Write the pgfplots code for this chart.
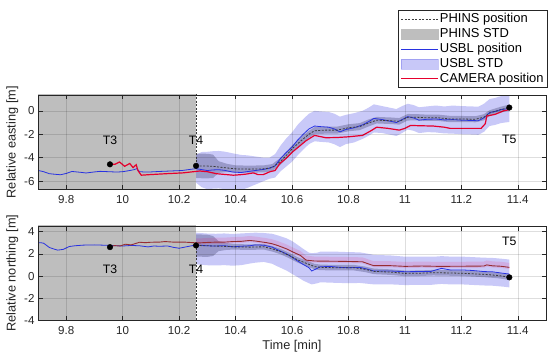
\documentclass[border=0pt]{standalone}
\usepackage{fontspec}
\setmainfont{Liberation Sans}
\setsansfont{Liberation Sans}
\usepackage{pgfplots}
\pgfplotsset{compat=1.18}
\usepackage{pgfplotstable}
\usepgfplotslibrary{fillbetween}

\definecolor{axgray}{RGB}{38,38,38}
\definecolor{phinsgray}{RGB}{190,190,190}
\definecolor{usblblue}{RGB}{40,50,225}
\definecolor{bandblue}{RGB}{60,60,230}
\definecolor{camred}{RGB}{230,0,45}
\definecolor{cambrown}{RGB}{150,45,50}
\definecolor{phinsdash}{RGB}{60,60,60}

% ---------- Easting (top) ----------
\pgfplotstableread{
t u w
9.70 -5.09 1.15
9.72 -5.20 1.15
9.74 -5.37 1.15
9.76 -5.42 1.15
9.78 -5.46 1.15
9.80 -5.35 1.15
9.82 -5.18 1.15
9.85 -5.25 1.15
9.87 -5.31 1.15
9.90 -5.22 1.15
9.92 -5.17 1.15
9.95 -5.20 1.15
9.98 -5.23 1.15
10.00 -5.20 1.15
10.02 -5.12 1.15
10.04 -5.03 1.15
10.05 -4.94 1.15
10.06 -5.20 1.15
10.08 -5.23 1.15
10.10 -5.22 1.15
10.13 -5.18 1.15
10.16 -5.15 1.15
10.19 -5.12 1.15
10.21 -5.10 1.15
10.24 -5.00 1.15
10.26 -4.94 1.2
10.28 -5.02 1.5
10.30 -5.10 1.6
10.32 -5.05 1.6
10.34 -5.03 1.6
10.36 -5.08 1.6
10.39 -5.23 1.6
10.42 -5.27 1.5
10.44 -5.20 1.4
10.47 -5.10 1.2
10.50 -5.00 1.0
10.52 -4.90 0.9
10.54 -4.70 1.0
10.56 -4.05 1.1
10.58 -3.55 1.2
10.60 -3.10 1.25
10.62 -2.50 1.3
10.64 -2.00 1.3
10.66 -1.55 1.3
10.68 -1.30 1.3
10.70 -1.35 1.3
10.73 -1.40 1.3
10.75 -1.55 1.3
10.77 -1.80 1.3
10.79 -1.60 1.25
10.82 -1.45 1.25
10.85 -1.20 1.2
10.87 -0.95 1.2
10.89 -0.65 1.2
10.92 -0.75 1.15
10.95 -0.90 1.15
10.97 -1.00 1.15
10.99 -0.75 1.15
11.01 -0.50 1.1
11.03 -0.60 1.1
11.05 -0.80 1.1
11.08 -0.72 1.1
11.11 -0.70 1.15
11.14 -0.78 1.15
11.17 -0.75 1.2
11.20 -0.80 1.2
11.23 -0.82 1.2
11.26 -0.85 1.2
11.28 -0.60 1.2
11.30 -0.15 1.15
11.32 -0.05 1.15
11.34 0.10 1.15
11.37 0.20 1.15
}\usblE

\pgfplotstableread{
t c
9.955 -4.57
9.972 -4.57
9.989 -4.37
10.007 -4.74
10.025 -4.50
10.037 -4.85
10.048 -4.60
10.054 -5.10
10.066 -5.50
10.096 -5.45
10.155 -5.37
10.214 -5.30
10.273 -5.14
10.30 -5.20
10.332 -5.37
10.392 -5.50
10.42 -5.45
10.439 -5.40
10.463 -5.30
10.48 -5.45
10.498 -5.45
10.522 -5.20
10.54 -5.10
10.557 -4.50
10.58 -4.05
10.60 -3.55
10.63 -2.95
10.65 -2.55
10.68 -2.10
10.70 -2.20
10.72 -2.30
10.76 -2.28
10.80 -2.22
10.85 -2.10
10.88 -1.70
10.90 -1.40
10.94 -1.50
10.98 -1.65
11.00 -1.50
11.02 -1.25
11.06 -1.28
11.10 -1.30
11.14 -1.40
11.16 -1.50
11.22 -1.50
11.27 -1.50
11.285 -1.10
11.29 -0.45
11.32 -0.30
11.35 0.00
11.37 0.10
}\camE

\pgfplotstableread{
t p w
10.26 -4.70 1.05
10.30 -4.72 1.05
10.32 -4.74 1.0
10.34 -4.80 0.5
10.37 -4.88 0.35
10.40 -4.96 0.3
10.45 -4.98 0.3
10.50 -4.96 0.3
10.53 -4.85 0.3
10.56 -4.30 0.3
10.58 -3.80 0.3
10.60 -3.25 0.3
10.63 -2.60 0.3
10.66 -2.00 0.3
10.68 -1.70 0.3
10.72 -1.65 0.3
10.76 -1.65 0.3
10.80 -1.45 0.3
10.84 -1.35 0.3
10.87 -1.05 0.3
10.90 -0.80 0.28
10.95 -0.85 0.28
10.98 -0.90 0.28
11.01 -0.55 0.28
11.04 -0.55 0.27
11.08 -0.60 0.27
11.12 -0.60 0.27
11.16 -0.70 0.27
11.20 -0.70 0.26
11.25 -0.72 0.26
11.28 -0.55 0.26
11.30 -0.20 0.25
11.34 0.10 0.25
11.37 0.28 0.25
}\phE

% ---------- Northing (bottom) ----------
\pgfplotstableread{
t u up dn
9.70 3.00 1.0 1.9
9.71 3.00 1.0 1.9
9.72 2.95 1.0 1.8
9.74 2.57 1.3 1.5
9.76 2.40 1.45 1.4
9.77 2.33 1.5 1.35
9.79 2.40 1.45 1.4
9.81 2.65 1.25 1.6
9.83 2.72 1.2 1.65
9.86 2.78 1.15 1.7
9.90 2.80 1.15 1.7
9.95 2.76 1.15 1.7
10.00 2.70 1.2 1.65
10.03 2.75 1.2 1.65
10.06 2.72 1.2 1.65
10.09 2.62 1.25 1.6
10.11 2.70 1.2 1.65
10.13 2.68 1.2 1.65
10.16 2.70 1.2 1.65
10.18 2.58 1.25 1.6
10.20 2.50 1.3 1.55
10.23 2.65 1.2 1.65
10.26 2.80 1.1 1.75
10.30 2.72 1.1 1.75
10.33 2.70 1.1 1.75
10.36 2.73 1.1 1.75
10.39 2.63 1.15 1.7
10.42 2.68 1.15 1.7
10.45 2.72 1.15 1.6
10.47 2.80 1.1 1.6
10.50 2.77 1.1 1.5
10.53 2.60 1.2 1.5
10.55 2.35 1.3 1.5
10.58 2.00 1.4 1.5
10.60 1.70 1.45 1.5
10.62 1.35 1.45 1.45
10.64 1.04 1.4 1.45
10.66 0.75 1.35 1.4
10.67 0.45 1.6 1.2
10.69 0.70 1.4 1.35
10.70 0.84 1.35 1.4
10.74 0.85 1.35 1.45
10.77 0.78 1.4 1.4
10.80 0.75 1.4 1.4
10.84 0.78 1.35 1.4
10.87 0.60 1.4 1.3
10.89 0.45 1.45 1.2
10.95 0.45 1.4 1.2
11.00 0.39 1.35 1.2
11.05 0.40 1.35 1.2
11.09 0.40 1.35 1.2
11.11 0.55 1.2 1.3
11.13 0.69 1.1 1.4
11.16 0.55 1.2 1.3
11.20 0.55 1.2 1.3
11.24 0.50 1.2 1.3
11.28 0.40 1.25 1.25
11.31 0.38 1.25 1.25
11.35 0.24 1.3 1.2
11.37 0.18 1.3 1.2
}\usblN

\pgfplotstableread{
t c
9.955 2.60
9.97 2.74
9.99 2.70
10.01 2.86
10.03 2.80
10.06 3.04
10.08 3.00
10.10 3.04
10.13 3.05
10.15 3.10
10.18 3.05
10.22 3.05
10.25 3.00
10.27 2.98
10.30 3.02
10.33 3.05
10.36 3.05
10.39 3.10
10.42 3.12
10.45 3.20
10.47 3.15
10.51 3.00
10.53 2.90
10.55 2.74
10.58 2.45
10.60 2.20
10.63 1.85
10.65 1.43
10.68 1.35
10.71 1.34
10.78 1.32
10.85 1.28
10.87 1.10
10.89 0.93
10.95 0.93
11.00 0.87
11.06 0.90
11.12 0.87
11.20 0.88
11.28 0.90
11.29 1.00
11.31 0.92
11.34 0.88
11.37 0.78
}\camN

\pgfplotstableread{
t p w
10.26 2.75 1.0
10.30 2.72 1.0
10.32 2.70 0.9
10.34 2.69 0.45
10.37 2.66 0.3
10.40 2.62 0.25
10.45 2.60 0.25
10.50 2.63 0.25
10.53 2.45 0.25
10.56 2.20 0.25
10.59 1.85 0.25
10.62 1.45 0.25
10.65 1.15 0.25
10.68 0.85 0.25
10.70 0.78 0.25
10.75 0.75 0.25
10.82 0.75 0.25
10.86 0.60 0.25
10.89 0.42 0.25
10.95 0.35 0.25
11.00 0.24 0.25
11.05 0.25 0.25
11.10 0.30 0.25
11.15 0.28 0.25
11.20 0.25 0.25
11.28 0.15 0.25
11.33 0.05 0.25
11.37 -0.10 0.25
}\phN

\tikzset{
  phinsline/.style={draw=phinsdash, line width=0.8bp, dash pattern=on 2bp off 1.5bp},
  usblline/.style={draw=usblblue, line width=0.8bp},
  camline/.style={draw=camred, line width=1.2bp},
}
\newcommand{\lf}{\fontsize{12.8}{15}\selectfont}
\newcommand{\gf}{\fontsize{13}{15}\selectfont}
\newcommand{\tf}{\fontsize{12.3}{14}\selectfont}

\pgfplotsset{
  myaxis/.style={
    scale only axis, width=508bp, height=94.5bp,
    xmin=9.7, xmax=11.5,
    xtick={9.8,10,10.2,10.4,10.6,10.8,11,11.2,11.4},
    grid=major,
    major grid style={black, opacity=0.13, line width=0.5bp},
    axis on top,
    axis line style={axgray, line width=0.5bp},
    every tick/.style={axgray, line width=0.5bp},
    tick align=inside, major tick length=4.5bp,
    tick label style={font=\fontsize{11.6}{14}\selectfont, text=axgray},
    xticklabel style={yshift=-2.5bp},
    /pgf/number format/assume math mode=true,
    ylabel style={at={(axis description cs:-0.0505,0.5)}, anchor=center, text=axgray},
    xlabel style={at={(axis description cs:0.5,-0.27)}, anchor=center, text=axgray},
  },
}

\begin{document}
\begin{tikzpicture}

% ================= TOP =================
\begin{axis}[myaxis,
  at={(38bp,171.5bp)}, anchor=south west,
  ymin=-6.72, ymax=1.35, ytick={-6,-4,-2,0},
  ylabel={\lf Relative easting [m]},
  legend cell align=left,
  legend style={at={(axis description cs:1.002,1)}, anchor=south east, yshift=7bp,
    draw=axgray, line width=0.5bp, fill=white, inner xsep=2bp, inner ysep=1.5bp,
    row sep=0pt, column sep=0pt,
    nodes={inner xsep=1.2bp, inner ysep=0bp, text height=10.6bp, text depth=4.2bp}},
]
\addlegendimage{legend image code/.code={\draw[phinsline] (0bp,0bp) -- (37bp,0bp);}}
\addlegendentry{\gf PHINS position}
\addlegendimage{legend image code/.code={\fill[phinsgray] (0bp,-4.75bp) rectangle (37bp,4.75bp);}}
\addlegendentry{\gf PHINS STD}
\addlegendimage{legend image code/.code={\draw[usblline] (0bp,0bp) -- (37bp,0bp);}}
\addlegendentry{\gf USBL position}
\addlegendimage{legend image code/.code={\fill[bandblue, opacity=0.28] (0bp,-4.75bp) rectangle (37bp,4.75bp);}}
\addlegendentry{\gf USBL STD}
\addlegendimage{legend image code/.code={\draw[camline] (0bp,0bp) -- (37bp,0bp);}}
\addlegendentry{\gf CAMERA position}

% PHINS STD
\addplot[fill=phinsgray, draw=none, forget plot] coordinates {(9.7,-20) (10.26,-20) (10.26,20) (9.7,20)} -- cycle;
\addplot[name path=phU, draw=none, forget plot] table[x=t, y expr=\thisrow{p}+\thisrow{w}] {\phE};
\addplot[name path=phL, draw=none, forget plot] table[x=t, y expr=\thisrow{p}-\thisrow{w}] {\phE};
\addplot[fill=phinsgray, draw=none, forget plot] fill between[of=phU and phL];
% USBL STD
\addplot[name path=usU, draw=none, forget plot] table[x=t, y expr=\thisrow{u}+\thisrow{w}] {\usblE};
\addplot[name path=usL, draw=none, forget plot] table[x=t, y expr=\thisrow{u}-\thisrow{w}] {\usblE};
\addplot[fill=bandblue, fill opacity=0.28, draw=none, forget plot] fill between[of=usU and usL];
% lines
\addplot[usblline, forget plot] table[x=t, y=u] {\usblE};
\addplot[phinsline, forget plot] coordinates {(10.26,20) (10.26,-4.70)};
\addplot[phinsline, forget plot] table[x=t, y=p] {\phE};
\addplot[camline, forget plot] table[x=t, y=c] {\camE};
\addplot[only marks, mark=*, mark size=2.8bp, black, forget plot] coordinates {(9.955,-4.57) (10.26,-4.70) (11.37,0.28)};
\node[text=black] at (axis cs:9.955,-2.5) {\tf T3};
\node[text=black] at (axis cs:10.26,-2.5) {\tf T4};
\node[text=black] at (axis cs:11.37,-2.44) {\tf T5};
\end{axis}

% ================= BOTTOM =================
\begin{axis}[myaxis,
  at={(38bp,40.5bp)}, anchor=south west,
  ymin=-4, ymax=4.5, ytick={-4,-2,0,2,4},
  ylabel={\lf Relative northing [m]},
  xlabel={\lf Time [min]},
]
\addplot[fill=phinsgray, draw=none] coordinates {(9.7,-20) (10.26,-20) (10.26,20) (9.7,20)} -- cycle;
\addplot[name path=phU, draw=none] table[x=t, y expr=\thisrow{p}+\thisrow{w}] {\phN};
\addplot[name path=phL, draw=none] table[x=t, y expr=\thisrow{p}-\thisrow{w}] {\phN};
\addplot[fill=phinsgray, draw=none] fill between[of=phU and phL];
\addplot[name path=usU, draw=none] table[x=t, y expr=\thisrow{u}+\thisrow{up}] {\usblN};
\addplot[name path=usL, draw=none] table[x=t, y expr=\thisrow{u}-\thisrow{dn}] {\usblN};
\addplot[fill=bandblue, fill opacity=0.28, draw=none] fill between[of=usU and usL];
\addplot[name path=caU, draw=none] table[x=t, y expr=\thisrow{c}+0.4] {\camN};
\addplot[name path=caL, draw=none] table[x=t, y expr=\thisrow{c}-0.15] {\camN};
\addplot[fill=magenta!60!red, fill opacity=0.14, draw=none] fill between[of=caU and caL];
\addplot[usblline] table[x=t, y=u] {\usblN};
\addplot[phinsline] coordinates {(10.26,-20) (10.26,2.75)};
\addplot[phinsline] table[x=t, y=p] {\phN};
\addplot[draw=cambrown, line width=0.9bp] table[x=t, y=c] {\camN};
\addplot[only marks, mark=*, mark size=2.8bp, black] coordinates {(9.955,2.60) (10.26,2.75) (11.37,-0.12)};
\node[text=black] at (axis cs:9.955,0.6) {\tf T3};
\node[text=black] at (axis cs:10.26,0.6) {\tf T4};
\node[text=black] at (axis cs:11.37,3.15) {\tf T5};
\end{axis}
\pgfresetboundingbox
\path[use as bounding box] (0,0) rectangle (550bp,361bp);
\end{tikzpicture}
\end{document}
